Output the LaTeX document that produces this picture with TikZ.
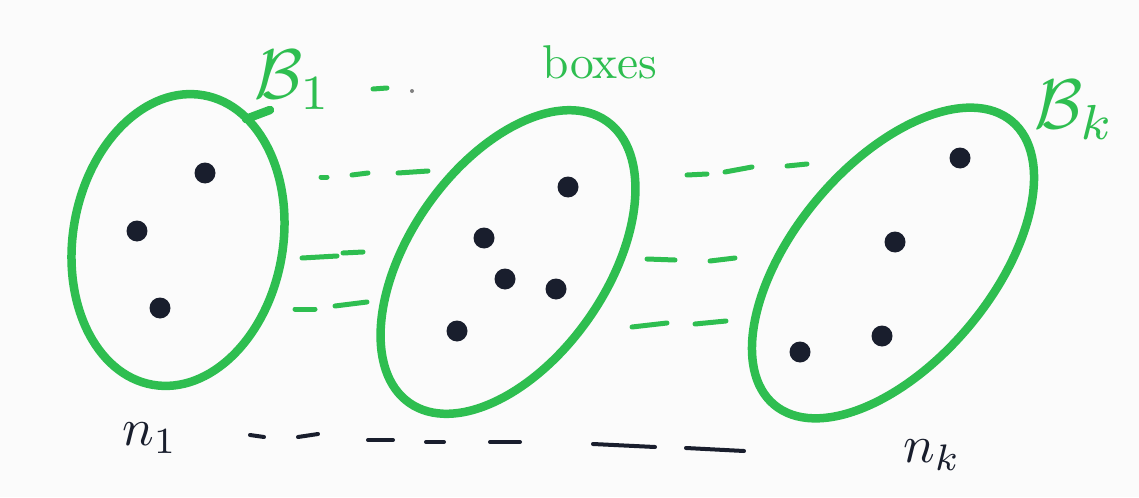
\documentclass[tikz,border=0pt]{standalone}
\usepackage{amsmath, amssymb}
\usepackage{graphicx}
\usepackage{tikz}
\usetikzlibrary{positioning, shapes.geometric}
\definecolor{marker}{RGB}{46,190,80}
\definecolor{ink}{RGB}{25,30,45}

\begin{document}
\begin{tikzpicture}[
  x=0.02cm, y=-0.02cm,
  box/.style={ellipse, draw=marker, line width=0.17cm, inner sep=0pt},
  pt/.style={circle, fill=ink, inner sep=0pt, minimum size=0.42cm},
  gdash/.style={draw=marker, line width=0.1cm, line cap=round},
  kdash/.style={draw=ink, line width=0.08cm, line cap=round},
  lbl/.style={inner sep=0pt}
]
  \fill[gray!3] (0,0) rectangle (1139,497);
  \useasboundingbox (0,0) rectangle (1139,497);

  % the boxes
  \node[box, minimum width=4.2cm, minimum height=5.88cm, rotate=-10] (box1) at (178,240) {};
  \node[box, minimum width=6.88cm, minimum height=3.94cm, rotate=55] (box2) at (508,262) {};
  \node[box, minimum width=7.4cm, minimum height=3.96cm, rotate=50] (boxk) at (893,263) {};
  \draw[marker, line width=0.17cm, line cap=round] (246,119) -- (270,110);

  % balls
  \node[pt] (p11) at (205,173) {};
  \node[pt] (p12) at (137,231) {};
  \node[pt] (p13) at (160,308) {};
  \node[pt] (p21) at (568,187) {};
  \node[pt] (p22) at (484,238) {};
  \node[pt] (p23) at (505,279) {};
  \node[pt] (p24) at (556,289) {};
  \node[pt] (p25) at (457,331) {};
  \node[pt] (pk1) at (960,158) {};
  \node[pt] (pk2) at (895,242) {};
  \node[pt] (pk3) at (882,336) {};
  \node[pt] (pk4) at (800,352) {};

  % labels
  \node[lbl, text=marker] (lbB1) at (293,80) {\scalebox{4}{$\mathcal{B}_1$}};
  \node[lbl, text=marker] (lbboxes) at (600,62) {\scalebox{2.7}{boxes}};
  \node[lbl, text=marker] (lbBk) at (1075,110) {\scalebox{4}{$\mathcal{B}_k$}};
  \node[lbl, text=ink] (lbn1) at (150,438) {\scalebox{3}{$n_1$}};
  \node[lbl, text=ink] (lbnk) at (932,455) {\scalebox{3}{$n_k$}};

  % dots after B_1
  \draw[gdash] (373,89) -- (387,88);
  \fill[gray] (412,91) circle (2);

  % green dashes between boxes
  \draw[gdash] (321,177) -- (327,177);
  \draw[gdash] (352,175) -- (368,173);
  \draw[gdash] (398,173) -- (428,171);
  \draw[gdash] (302,258) -- (337,256);
  \draw[gdash] (343,253) -- (363,252);
  \draw[gdash] (295,309) -- (315,309);
  \draw[gdash] (335,306) -- (367,302);
  \draw[gdash] (687,175) -- (707,174);
  \draw[gdash] (725,172) -- (752,167);
  \draw[gdash] (787,166) -- (807,164);
  \draw[gdash] (647,259) -- (675,260);
  \draw[gdash] (710,261) -- (735,258);
  \draw[gdash] (632,327) -- (667,323);
  \draw[gdash] (695,324) -- (726,321);

  % black dashes from n_1 to n_k
  \draw[kdash] (250,435) -- (264,437);
  \draw[kdash] (298,437) -- (318,434);
  \draw[kdash] (368,440) -- (393,440);
  \draw[kdash] (426,442) -- (444,442);
  \draw[kdash] (490,442) -- (520,442);
  \draw[kdash] (593,444) -- (655,447);
  \draw[kdash] (686,448) -- (744,451);
\end{tikzpicture}
\end{document}
